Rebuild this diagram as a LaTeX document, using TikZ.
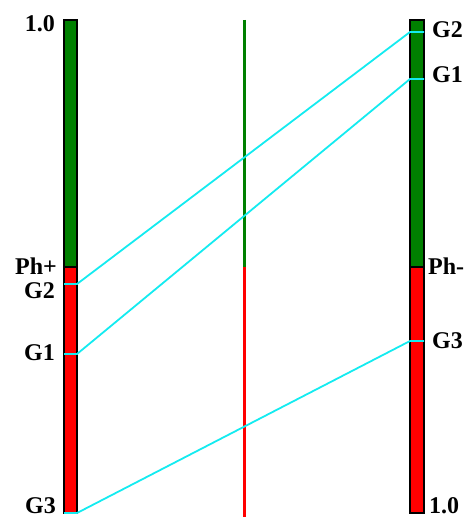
\documentclass[tikz,border=0pt]{standalone}
\usepackage{fontspec}
\setmainfont{Liberation Serif}
\definecolor{phgreen}{RGB}{0,128,0}
\definecolor{phred}{RGB}{255,0,0}
\definecolor{gline}{RGB}{20,235,240}
\begin{document}
\begin{tikzpicture}[x=1pt, y=-1pt,
  lab/.style={font=\fontsize{24}{26}\selectfont\bfseries, inner sep=0pt},
  bar/.style={draw=black, line width=1.5pt},
  link/.style={gline, line width=1.8pt}]
  \useasboundingbox (0,0) rectangle (469,518);
  % left bar
  \fill[phgreen] (64,20) rectangle (77,267);
  \fill[phred] (64,267) rectangle (77,513);
  \draw[bar] (64,20) rectangle (77,513);
  \draw[bar] (64,267) -- (77,267);
  % right bar
  \fill[phgreen] (410,20) rectangle (424,267);
  \fill[phred] (410,267) rectangle (424,513);
  \draw[bar] (410,20) rectangle (424,513);
  \draw[bar] (410,267) -- (424,267);
  % middle line
  \draw[phgreen, line width=3pt] (244,20) -- (244,267);
  \draw[phred, line width=3pt] (244,267) -- (244,517);
  % tick points
  \coordinate (lG2) at (77,284);
  \coordinate (lG1) at (77,354);
  \coordinate (lG3) at (77,513);
  \coordinate (rG2) at (410,32);
  \coordinate (rG1) at (410,79);
  \coordinate (rG3) at (410,341);
  \draw[link] ([xshift=-13pt]lG2) -- (lG2) -- (rG2) -- ([xshift=14pt]rG2);
  \draw[link] ([xshift=-13pt]lG1) -- (lG1) -- (rG1) -- ([xshift=14pt]rG1);
  \draw[link] ([xshift=-13pt]lG3) -- (lG3) -- (rG3) -- ([xshift=14pt]rG3);
  % labels
  \node[lab, anchor=base east] (ltop) at (55,32) {1.0};
  \node[lab, anchor=base east] (lph) at (57,274) {Ph+};
  \node[lab, anchor=base east] (lg2) at (55,298) {G2};
  \node[lab, anchor=base east] (lg1) at (55,360) {G1};
  \node[lab, anchor=base east] (lg3) at (56,513) {G3};
  \node[lab, anchor=base west] (rg2) at (432,38) {G2};
  \node[lab, anchor=base west] (rg1) at (432,83) {G1};
  \node[lab, anchor=base west] (rph) at (428,274) {Ph-};
  \node[lab, anchor=base west] (rg3) at (432,348) {G3};
  \node[lab, anchor=base west] (rbot) at (429,513) {1.0};
\end{tikzpicture}
\end{document}
